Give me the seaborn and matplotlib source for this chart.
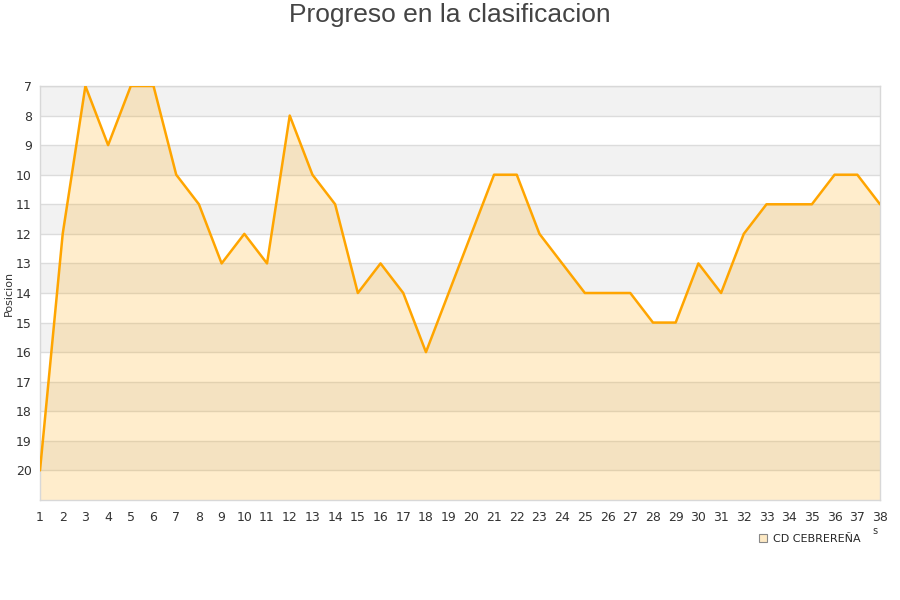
import matplotlib
matplotlib.use("Agg")
import matplotlib.pyplot as plt
import seaborn as sns
import pandas as pd

jornadas = list(range(1, 39))
posiciones = [20, 12, 7, 9, 7, 7, 10, 11, 13, 12, 13, 8, 10, 11, 14, 13, 14, 16, 14, 12,
              10, 10, 12, 13, 14, 14, 14, 15, 15, 13, 14, 12, 11, 11, 11, 10, 10, 11]
equipo = "CD CEBREREÑA"
y_ticks = list(range(7, 21))

df = pd.DataFrame({"Jornada": jornadas, "Posicion": posiciones})

sns.set_style("white")
plt.rcParams['font.family'] = ['DejaVu Sans']

fig = plt.figure(figsize=(9, 6), dpi=100)
ax = fig.add_axes([40/900, 1-500/600, 840/900, 414/600])

ymin, ymax = 7, 21
for k in range(ymin, ymax):
    if (k - ymin) % 2 == 0:
        ax.axhspan(k, k+1, color="#f2f2f2", zorder=0, lw=0)
for k in y_ticks:
    ax.axhline(k, color="#dcdcdc", lw=1, zorder=1)

ax.fill_between(df["Jornada"], df["Posicion"], ymax, color="#ffa500", alpha=0.2, lw=0, zorder=2)
sns.lineplot(data=df, x="Jornada", y="Posicion", ax=ax, color="#ffa500", lw=1.8, zorder=3)

ax.set_xlim(1, 38)
ax.set_ylim(ymax, ymin)
ax.set_xticks(jornadas)
ax.set_yticks(y_ticks)
ax.tick_params(axis="both", labelsize=9, colors="#333333", length=0)
ax.tick_params(axis="x", pad=8)
ax.tick_params(axis="y", pad=6)
ax.set_xlabel("")
ax.set_ylabel("")
for s in ax.spines.values():
    s.set_color("#d8d8d8")
    s.set_linewidth(1)

fig.text(9/900, 1-293/600, "Posicion", rotation=90, ha="center", va="center",
         fontsize=8, color="#333333")

fig.text(0.5, 1-15/600, "Progreso en la clasificacion", ha="center", va="center",
         fontsize=19, color="#444444", family=["Liberation Sans", "DejaVu Sans"])

from matplotlib.lines import Line2D
h = Line2D([], [], marker="s", ls="", markersize=6, markerfacecolor="#fde9c4",
           markeredgecolor="#888888", markeredgewidth=0.8)
fig.legend([h], [equipo], loc="center", bbox_to_anchor=(808/900, 1-539/600),
           frameon=False, fontsize=8, handletextpad=0.3, handlelength=1.2)

fig.text(875/900, 1-531/600, "s", ha="center", va="center", fontsize=7, color="#333333")

fig.savefig("out.png", dpi=100)
